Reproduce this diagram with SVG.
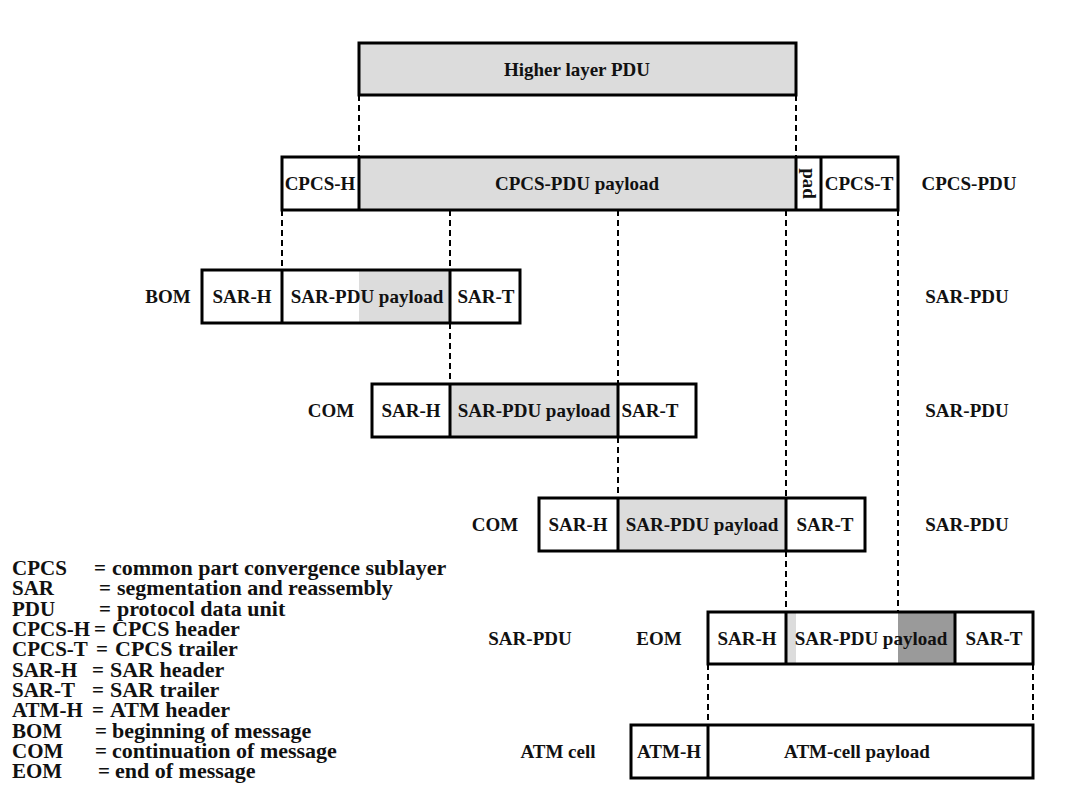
<svg xmlns="http://www.w3.org/2000/svg" width="1080" height="810" viewBox="0 0 1080 810">
<style>
text{font-family:"Liberation Serif","Times New Roman",serif;font-weight:bold;fill:#111}
.t{font-size:19px;text-anchor:middle}
.lb{font-size:19px;text-anchor:middle}
.lg{font-size:21px}
.lg .d{font-size:22px}
.o{fill:none;stroke:#000;stroke-width:3}
.w{fill:#fff}
.g{fill:#dcdcdc}
.dg{fill:#9a9a9a}
.dv{stroke:#000;stroke-width:3}
.dash{stroke:#000;stroke-width:2;stroke-dasharray:6 4;fill:none}
</style>
<rect width="1080" height="810" fill="#fff"/>
<g id="connectors">
<line class="dash" x1="359" y1="95" x2="359" y2="157"/>
<line class="dash" x1="796" y1="95" x2="796" y2="157"/>
<line class="dash" x1="282" y1="210" x2="282" y2="270"/>
<line class="dash" x1="450" y1="210" x2="450" y2="270"/>
<line class="dash" x1="450" y1="323" x2="450" y2="384"/>
<line class="dash" x1="618" y1="210" x2="618" y2="384"/>
<line class="dash" x1="618" y1="437" x2="618" y2="498"/>
<line class="dash" x1="786" y1="210" x2="786" y2="498"/>
<line class="dash" x1="786" y1="551" x2="786" y2="612"/>
<line class="dash" x1="898" y1="210" x2="898" y2="612"/>
<line class="dash" x1="708" y1="664" x2="708" y2="725"/>
<line class="dash" x1="1033" y1="664" x2="1033" y2="725"/>
</g>
<g id="higher-pdu">
<rect class="g" x="359" y="43" width="437" height="52"/>
<rect class="o" x="359" y="43" width="437" height="52"/>
<text class="t" x="577" y="76">Higher layer PDU</text>
</g>
<g id="cpcs-pdu">
<rect class="w" x="282" y="157" width="616" height="53"/>
<rect class="g" x="359" y="157" width="437" height="53"/>
<rect class="o" x="282" y="157" width="616" height="53"/>
<line class="dv" x1="359" y1="157" x2="359" y2="210"/>
<line class="dv" x1="796" y1="157" x2="796" y2="210"/>
<line class="dv" x1="821" y1="157" x2="821" y2="210"/>
<text class="t" x="320" y="190">CPCS-H</text>
<text class="t" x="577" y="190">CPCS-PDU payload</text>
<text class="t" transform="translate(808.5,183.5) rotate(90)" y="6">pad</text>
<text class="t" x="859" y="190">CPCS-T</text>
<text class="lb" x="969" y="190">CPCS-PDU</text>
</g>
<g id="bom">
<rect class="w" x="202" y="270" width="318" height="53"/>
<rect class="g" x="359" y="270" width="91" height="53"/>
<rect class="o" x="202" y="270" width="318" height="53"/>
<line class="dv" x1="282" y1="270" x2="282" y2="323"/>
<line class="dv" x1="450" y1="270" x2="450" y2="323"/>
<text class="t" x="242" y="303">SAR-H</text>
<text class="t" x="367" y="303">SAR-PDU payload</text>
<text class="t" x="486" y="303">SAR-T</text>
<text class="lb" x="168" y="303">BOM</text>
<text class="lb" x="967" y="303">SAR-PDU</text>
</g>
<g id="com1">
<rect class="w" x="372" y="384" width="324" height="53"/>
<rect class="g" x="450" y="384" width="168" height="53"/>
<rect class="o" x="372" y="384" width="324" height="53"/>
<line class="dv" x1="450" y1="384" x2="450" y2="437"/>
<line class="dv" x1="618" y1="384" x2="618" y2="437"/>
<text class="t" x="411" y="417">SAR-H</text>
<text class="t" x="534" y="417">SAR-PDU payload</text>
<text class="t" x="650" y="417">SAR-T</text>
<text class="lb" x="331" y="417">COM</text>
<text class="lb" x="967" y="417">SAR-PDU</text>
</g>
<g id="com2">
<rect class="w" x="539" y="498" width="326" height="53"/>
<rect class="g" x="618" y="498" width="168" height="53"/>
<rect class="o" x="539" y="498" width="326" height="53"/>
<line class="dv" x1="618" y1="498" x2="618" y2="551"/>
<line class="dv" x1="786" y1="498" x2="786" y2="551"/>
<text class="t" x="578" y="531">SAR-H</text>
<text class="t" x="702" y="531">SAR-PDU payload</text>
<text class="t" x="825" y="531">SAR-T</text>
<text class="lb" x="495" y="531">COM</text>
<text class="lb" x="967" y="531">SAR-PDU</text>
</g>
<g id="eom">
<rect class="w" x="708" y="612" width="325" height="52"/>
<rect class="g" x="786" y="612" width="10" height="52"/>
<rect class="dg" x="898" y="612" width="57" height="52"/>
<rect class="o" x="708" y="612" width="325" height="52"/>
<line class="dv" x1="786" y1="612" x2="786" y2="664"/>
<line class="dv" x1="955" y1="612" x2="955" y2="664"/>
<text class="t" x="747" y="645">SAR-H</text>
<text class="t" x="871" y="645">SAR-PDU payload</text>
<text class="t" x="994" y="645">SAR-T</text>
<text class="lb" x="659" y="645">EOM</text>
<text class="lb" x="530" y="645">SAR-PDU</text>
</g>
<g id="atm-cell">
<rect class="w" x="631" y="725" width="402" height="53"/>
<rect class="o" x="631" y="725" width="402" height="53"/>
<line class="dv" x1="708" y1="725" x2="708" y2="778"/>
<text class="t" x="669" y="758">ATM-H</text>
<text class="t" x="857" y="758">ATM-cell payload</text>
<text class="lb" x="558" y="758">ATM cell</text>
</g>
<g id="legend" class="lg">
<text x="12" y="575">CPCS</text><text x="94" y="575">=</text><text class="d" x="112" y="575">common part convergence sublayer</text>
<text x="12" y="595">SAR</text><text x="99" y="595">=</text><text class="d" x="117" y="595">segmentation and reassembly</text>
<text x="12" y="616">PDU</text><text x="99" y="616">=</text><text class="d" x="117" y="616">protocol data unit</text>
<text x="12" y="636">CPCS-H</text><text x="94" y="636">=</text><text class="d" x="112" y="636">CPCS header</text>
<text x="12" y="656">CPCS-T</text><text x="96" y="656">=</text><text class="d" x="115" y="656">CPCS trailer</text>
<text x="12" y="677">SAR-H</text><text x="92" y="677">=</text><text class="d" x="110" y="677">SAR header</text>
<text x="12" y="697">SAR-T</text><text x="92" y="697">=</text><text class="d" x="110" y="697">SAR trailer</text>
<text x="12" y="717">ATM-H</text><text x="92" y="717">=</text><text class="d" x="110" y="717">ATM header</text>
<text x="12" y="738">BOM</text><text x="95" y="738">=</text><text class="d" x="112" y="738">beginning of message</text>
<text x="12" y="758">COM</text><text x="95" y="758">=</text><text class="d" x="112" y="758">continuation of message</text>
<text x="12" y="778">EOM</text><text x="98" y="778">=</text><text class="d" x="115" y="778">end of message</text>
</g>
</svg>
